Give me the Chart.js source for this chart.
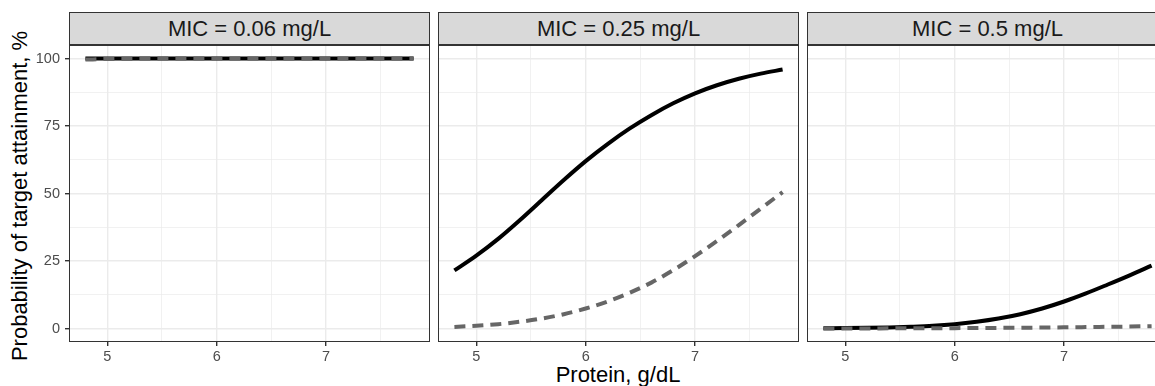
<!DOCTYPE html>
<html>
<head>
<meta charset="utf-8">
<script src="https://cdn.jsdelivr.net/npm/chart.js@4"></script>
<style>
  html, body { margin: 0; padding: 0; background: #fff; overflow: hidden; }
  body { width: 1155px; height: 386px; position: relative; font-family: "Liberation Sans", Arial, sans-serif; }
  canvas { position: absolute; }
  .strip {
    position: absolute; top: 12px; height: 31px; width: 359px;
    background: #d9d9d9; border: 1px solid #333;
    font-size: 22px; line-height: 31px; text-align: center; color: #1a1a1a;
  }
  .ytitle {
    position: absolute; width: 400px; height: 22px; line-height: 22px;
    left: -180px; top: 185px; transform: rotate(-90deg);
    font-size: 22px; text-align: center; color: #000;
  }
  .xtitle {
    position: absolute; width: 400px; height: 22px; line-height: 22px;
    left: 418px; top: 364px; font-size: 22px; text-align: center; color: #000;
  }
</style>
</head>
<body>
<div class="ytitle">Probability of target attainment, %</div>
<div class="xtitle">Protein, g/dL</div>
<div id="strips"></div>
<canvas id="c0" width="430" height="337" style="left:0px;top:45px"></canvas>
<canvas id="c1" width="361" height="337" style="left:438px;top:45px"></canvas>
<canvas id="c2" width="361" height="337" style="left:807px;top:45px"></canvas>
<script>
// protein levels, g/dL
const protein = [4.8, 5.0, 5.2, 5.4, 5.6, 5.8, 6.0, 6.2, 6.4, 6.6, 6.8, 7.0, 7.2, 7.4, 7.6, 7.8];

const panelTitles = ['MIC = 0.06 mg/L', 'MIC = 0.25 mg/L', 'MIC = 0.5 mg/L'];

// solid black line
const solid006 = [100, 100, 100, 100, 100, 100, 100, 100, 100, 100, 100, 100, 100, 100, 100, 100];
const solid025 = [21.5, 27, 33.2, 40.2, 47.6, 55, 62, 68.3, 74, 79, 83.4, 87.1, 90.1, 92.5, 94.4, 95.9];
const solid05 = [0.1, 0.15, 0.25, 0.4, 0.65, 1.0, 1.6, 2.5, 3.7, 5.3, 7.4, 10, 13, 16.3, 19.7, 23.3];

// dashed grey line
const dashed006 = [99.6, 99.8, 99.9, 100, 100, 100, 100, 100, 100, 100, 100, 100, 100, 100, 100, 100];
const dashed025 = [0.6, 1.0, 1.6, 2.5, 3.7, 5.3, 7.4, 10, 13.2, 17, 21.6, 26.8, 32.4, 38.3, 44.4, 50.5];
const dashed05 = [0, 0, 0, 0.05, 0.07, 0.1, 0.13, 0.17, 0.22, 0.28, 0.35, 0.43, 0.52, 0.62, 0.73, 0.85];

const xTicks = [5, 5.5, 6, 6.5, 7, 7.5];
const yTicks = [0, 12.5, 25, 37.5, 50, 62.5, 75, 87.5, 100];

const panels = [
  { solid: solid006, dashed: dashed006 },
  { solid: solid025, dashed: dashed025 },
  { solid: solid05, dashed: dashed05 }
];

const stripLefts = [69, 438, 807];
const stripsDiv = document.getElementById('strips');
panelTitles.forEach((t, i) => {
  const d = document.createElement('div');
  d.className = 'strip';
  d.style.left = stripLefts[i] + 'px';
  d.textContent = t;
  stripsDiv.appendChild(d);
});

const panelBorder = {
  id: 'panelBorder',
  afterDraw(chart) {
    const a = chart.chartArea;
    const ctx = chart.ctx;
    ctx.save();
    ctx.strokeStyle = '#333';
    ctx.lineWidth = 1;
    ctx.strokeRect(a.left + 0.5, a.top + 0.5, a.right - a.left - 1, a.bottom - a.top - 1);
    ctx.restore();
  }
};

function toPoints(ys) {
  return protein.map((x, i) => ({ x: x, y: ys[i] }));
}

function makeChart(idx) {
  const first = idx === 0;
  const p = panels[idx];
  return new Chart(document.getElementById('c' + idx), {
    type: 'line',
    data: {
      datasets: [
        {
          data: toPoints(p.dashed),
          borderColor: '#666666',
          borderWidth: 4,
          borderDash: [11, 7],
          borderCapStyle: 'butt',
          pointRadius: 0,
          cubicInterpolationMode: 'monotone'
        },
        {
          data: toPoints(p.solid),
          borderColor: '#000000',
          borderWidth: 4,
          pointRadius: 0,
          cubicInterpolationMode: 'monotone'
        }
      ]
    },
    options: {
      responsive: false,
      animation: false,
      events: [],
      layout: { padding: 0 },
      plugins: { legend: { display: false }, tooltip: { enabled: false } },
      scales: {
        x: {
          type: 'linear',
          min: 4.65,
          max: 7.95,
          afterBuildTicks: s => { s.ticks = xTicks.map(v => ({ value: v })); },
          afterFit: s => { s.height = 40; s.paddingLeft = 0; s.paddingRight = 0; s.paddingTop = 0; s.paddingBottom = 0; },
          border: { display: false },
          grid: {
            color: '#ebebeb',
            lineWidth: c => Number.isInteger(c.tick.value) ? 1.4 : 0.7,
            tickColor: c => Number.isInteger(c.tick.value) ? '#333' : 'rgba(0,0,0,0)',
            tickLength: 4
          },
          ticks: {
            autoSkip: false,
            maxRotation: 0,
            padding: 2,
            color: '#4d4d4d',
            font: { family: 'Liberation Sans', size: 14.5 },
            callback: v => Number.isInteger(v) ? String(v) : ''
          }
        },
        y: {
          type: 'linear',
          min: -5,
          max: 105,
          afterBuildTicks: s => { s.ticks = yTicks.map(v => ({ value: v })); },
          afterFit: s => { s.width = first ? 69 : 0; s.paddingLeft = 0; s.paddingRight = 0; s.paddingTop = 0; s.paddingBottom = 0; },
          border: { display: false },
          grid: {
            color: '#ebebeb',
            lineWidth: c => c.tick.value % 25 === 0 ? 1.4 : 0.7,
            tickColor: c => c.tick.value % 25 === 0 ? '#333' : 'rgba(0,0,0,0)',
            drawTicks: first,
            tickLength: 4
          },
          ticks: {
            display: first,
            autoSkip: false,
            padding: 5,
            color: '#4d4d4d',
            font: { family: 'Liberation Sans', size: 14.5 },
            callback: v => v % 25 === 0 ? String(v) : ''
          }
        }
      }
    },
    plugins: [panelBorder]
  });
}

makeChart(0);
makeChart(1);
makeChart(2);
</script>
</body>
</html>
